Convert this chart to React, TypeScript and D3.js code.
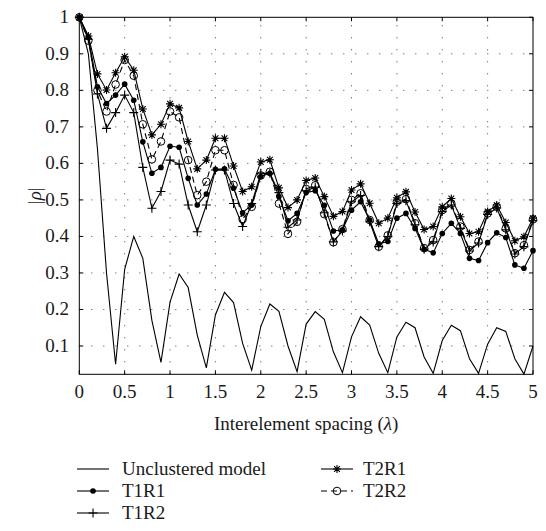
import React from "react";
import * as d3 from "d3";

const spacing = [0, 0.1, 0.2, 0.3, 0.4, 0.5, 0.6, 0.7, 0.8, 0.9, 1, 1.1, 1.2, 1.3, 1.4, 1.5, 1.6, 1.7, 1.8, 1.9, 2, 2.1, 2.2, 2.3, 2.4, 2.5, 2.6, 2.7, 2.8, 2.9, 3, 3.1, 3.2, 3.3, 3.4, 3.5, 3.6, 3.7, 3.8, 3.9, 4, 4.1, 4.2, 4.3, 4.4, 4.5, 4.6, 4.7, 4.8, 4.9, 5];

const unclustered = [1, 0.90, 0.64, 0.30, 0.05, 0.31, 0.40, 0.34, 0.17, 0.055, 0.22, 0.297, 0.26, 0.13, 0.04, 0.185, 0.247, 0.219, 0.107, 0.034, 0.153, 0.215, 0.195, 0.10, 0.03, 0.16, 0.194, 0.173, 0.084, 0.027, 0.125, 0.18, 0.157, 0.08, 0.027, 0.125, 0.165, 0.15, 0.07, 0.025, 0.115, 0.157, 0.142, 0.065, 0.025, 0.105, 0.15, 0.14, 0.065, 0.023, 0.10];

const t1r1 = [1, 0.945, 0.81, 0.764, 0.787, 0.817, 0.773, 0.659, 0.573, 0.589, 0.647, 0.644, 0.559, 0.486, 0.516, 0.584, 0.585, 0.532, 0.465, 0.486, 0.564, 0.573, 0.509, 0.443, 0.463, 0.52, 0.525, 0.485, 0.415, 0.418, 0.472, 0.495, 0.445, 0.38, 0.386, 0.45, 0.463, 0.422, 0.365, 0.355, 0.408, 0.436, 0.408, 0.34, 0.334, 0.383, 0.41, 0.397, 0.322, 0.313, 0.361];

const t1r2 = [1, 0.94, 0.79, 0.696, 0.739, 0.787, 0.739, 0.589, 0.477, 0.523, 0.609, 0.598, 0.486, 0.413, 0.486, 0.582, 0.582, 0.49, 0.427, 0.49, 0.573, 0.573, 0.52, 0.425, 0.445, 0.525, 0.535, 0.465, 0.385, 0.415, 0.495, 0.512, 0.44, 0.372, 0.4, 0.49, 0.498, 0.432, 0.365, 0.385, 0.468, 0.486, 0.422, 0.36, 0.382, 0.46, 0.478, 0.418, 0.352, 0.372, 0.443];

const t2r1 = [1, 0.949, 0.845, 0.801, 0.848, 0.892, 0.855, 0.749, 0.678, 0.707, 0.763, 0.752, 0.66, 0.585, 0.609, 0.669, 0.669, 0.593, 0.523, 0.536, 0.604, 0.61, 0.533, 0.479, 0.5, 0.553, 0.56, 0.509, 0.455, 0.468, 0.527, 0.544, 0.491, 0.436, 0.45, 0.506, 0.522, 0.467, 0.419, 0.427, 0.481, 0.504, 0.454, 0.408, 0.413, 0.468, 0.486, 0.438, 0.388, 0.399, 0.45];

const t2r2 = [1, 0.936, 0.80, 0.742, 0.816, 0.883, 0.840, 0.707, 0.611, 0.66, 0.742, 0.726, 0.609, 0.513, 0.55, 0.636, 0.636, 0.541, 0.447, 0.481, 0.567, 0.577, 0.49, 0.407, 0.44, 0.53, 0.54, 0.461, 0.384, 0.42, 0.50, 0.518, 0.445, 0.372, 0.403, 0.495, 0.502, 0.436, 0.368, 0.39, 0.472, 0.49, 0.427, 0.363, 0.386, 0.463, 0.481, 0.422, 0.354, 0.376, 0.447];

const xTicks = [0, 0.5, 1, 1.5, 2, 2.5, 3, 3.5, 4, 4.5, 5];
const yTicks = [0.1, 0.2, 0.3, 0.4, 0.5, 0.6, 0.7, 0.8, 0.9, 1];

type Marker = "none" | "dot" | "plus" | "star" | "circle";
const series: { name: string; values: number[]; marker: Marker; dashed: boolean }[] = [
  { name: "Unclustered model", values: unclustered, marker: "none", dashed: false },
  { name: "T1R1", values: t1r1, marker: "dot", dashed: false },
  { name: "T1R2", values: t1r2, marker: "plus", dashed: false },
  { name: "T2R1", values: t2r1, marker: "star", dashed: false },
  { name: "T2R2", values: t2r2, marker: "circle", dashed: true },
];

const FONT = "'Liberation Serif', 'Times New Roman', serif";
const TXT: React.CSSProperties = { fontFamily: FONT };

function MarkerShape({ type, cx, cy }: { type: Marker; cx: number; cy: number }) {
  if (type === "dot") return <circle cx={cx} cy={cy} r={2.8} fill="#000" />;
  if (type === "circle") return <circle cx={cx} cy={cy} r={3.8} fill="none" stroke="#000" strokeWidth={1} />;
  if (type === "plus") {
    const s = 4.5;
    return <path d={`M${cx - s},${cy}H${cx + s}M${cx},${cy - s}V${cy + s}`} stroke="#000" strokeWidth={1.1} />;
  }
  if (type === "star") {
    const s = 4;
    const d = s * 0.72;
    return (
      <path
        d={`M${cx - s},${cy}H${cx + s}M${cx},${cy - s}V${cy + s}M${cx - d},${cy - d}L${cx + d},${cy + d}M${cx - d},${cy + d}L${cx + d},${cy - d}`}
        stroke="#000"
        strokeWidth={1.1}
      />
    );
  }
  return null;
}

export default function App() {
  const W = 546, H = 531;
  const x = d3.scaleLinear().domain([0, 5]).range([79.3, 533]);
  const y = d3.scaleLinear().domain([0.0225, 1]).range([374.3, 17.3]);
  const [x0, x1] = x.range();
  const [yb, yt] = y.range();
  const line = d3.line<number>().x((_, i) => x(spacing[i])).y((v) => y(v));

  const legendRows = [
    { s: series[0], lx: 77, tx: 122, cy: 469 },
    { s: series[1], lx: 77, tx: 122, cy: 491 },
    { s: series[2], lx: 77, tx: 122, cy: 513 },
    { s: series[3], lx: 321, tx: 363, cy: 469 },
    { s: series[4], lx: 321, tx: 363, cy: 491 },
  ];

  return (
    <svg width={W} height={H} style={{ position: "absolute", left: 0, top: 0, background: "#fff" }}>
      <rect x={0} y={0} width={W} height={H} fill="#fff" />
      {/* grid */}
      <g stroke="#444" strokeWidth={1} strokeDasharray="1,11">
        {xTicks.slice(1, -1).map((t) => (
          <line key={"gx" + t} x1={x(t)} x2={x(t)} y1={yb} y2={yt} />
        ))}
        {yTicks.slice(0, -1).map((t) => (
          <line key={"gy" + t} x1={x0} x2={x1} y1={y(t)} y2={y(t)} />
        ))}
      </g>
      {/* ticks */}
      <g stroke="#000" strokeWidth={1}>
        {xTicks.map((t) => (
          <g key={"tx" + t}>
            <line x1={x(t)} x2={x(t)} y1={yb} y2={yb - 4} />
            <line x1={x(t)} x2={x(t)} y1={yt} y2={yt + 4} />
          </g>
        ))}
        {yTicks.map((t) => (
          <g key={"ty" + t}>
            <line x1={x0} x2={x0 + 4} y1={y(t)} y2={y(t)} />
            <line x1={x1} x2={x1 - 4} y1={y(t)} y2={y(t)} />
          </g>
        ))}
      </g>
      {/* series */}
      {series.map((s) => (
        <g key={s.name}>
          <path d={line(s.values) || ""} fill="none" stroke="#000" strokeWidth={1.1} strokeDasharray={s.dashed ? "6,4" : undefined} />
          {s.values.map((v, i) => (
            <MarkerShape key={i} type={s.marker} cx={x(spacing[i])} cy={y(v)} />
          ))}
        </g>
      ))}
      {/* frame */}
      <rect x={x0} y={yt} width={x1 - x0} height={yb - yt} fill="none" stroke="#000" strokeWidth={1} />
      {/* tick labels */}
      <g fontSize={19} fill="#1a1a1a">
        {xTicks.map((t) => (
          <text key={"lx" + t} x={x(t)} y={398} textAnchor="middle" style={TXT}>
            {String(t)}
          </text>
        ))}
        {yTicks.map((t) => (
          <text key={"ly" + t} x={69} y={y(t) + 6} textAnchor="end" style={TXT}>
            {String(t)}
          </text>
        ))}
      </g>
      <text x={(x0 + x1) / 2} y={430} fontSize={19} textAnchor="middle" fill="#1a1a1a" style={TXT}>
        Interelement spacing (<tspan fontStyle="italic">λ</tspan>)
      </text>
      <text transform={`translate(41,${(yb + yt) / 2}) rotate(-90)`} fontSize={19} textAnchor="middle" fill="#1a1a1a" style={TXT}>
        |<tspan fontStyle="italic">ρ</tspan>|
      </text>
      {/* legend */}
      {legendRows.map(({ s, lx, tx, cy }) => (
        <g key={"lg" + s.name}>
          <line x1={lx} x2={lx + 32} y1={cy} y2={cy} stroke="#000" strokeWidth={1.1} strokeDasharray={s.dashed ? "6,4" : undefined} />
          <MarkerShape type={s.marker} cx={lx + 16} cy={cy} />
          <text x={tx} y={cy + 6} fontSize={19} fill="#1a1a1a" style={TXT}>
            {s.name}
          </text>
        </g>
      ))}
    </svg>
  );
}
